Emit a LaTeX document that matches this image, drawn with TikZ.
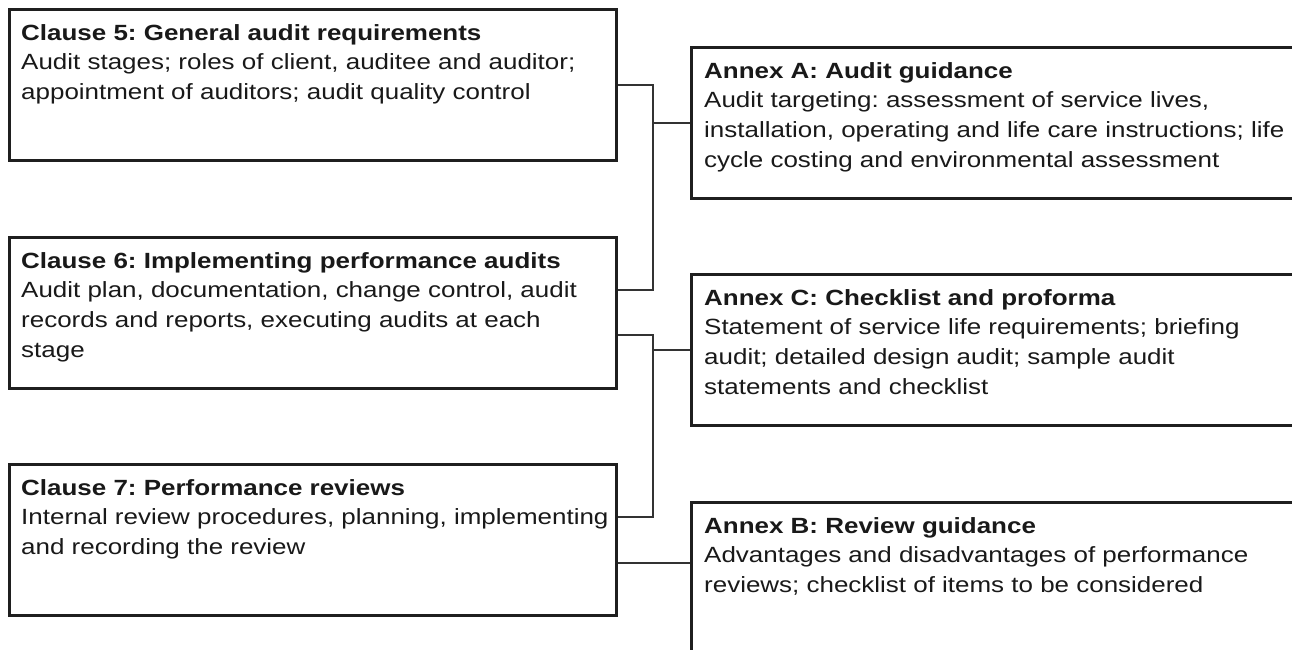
\documentclass[tikz,border=0pt]{standalone}
\usepackage{fontspec}
\setmainfont{Liberation Sans}[FakeStretch=1.18]
\usepackage{tikz}
\frenchspacing

\tikzset{
  part/.style={draw=black!88, line width=2.6pt, rectangle, inner sep=0pt,
    minimum width=607pt, minimum height=151pt, anchor=north west},
  words/.style={anchor=north west, align=left, inner sep=0pt, text=black!90,
    font=\fontsize{22}{29.8}\selectfont},
  link/.style={draw=black!80, line width=1.8pt}
}

\begin{document}
\begin{tikzpicture}[x=1pt, y=-1pt]
	\clip (0,0) rectangle (1292,649);
	\fill [white] (0,0) rectangle (1292,649);
	% clauses
	\node [part] (c5) at (8,8) {};
	\node [part] (c6) at (8,236) {};
	\node [part] (c7) at (8,463) {};
	% annexes
	\node [part] (anA) at (690,46) {};
	\node [part] (anC) at (690,273) {};
	\node [part] (anB) at (690,501) {};

	% label
	\node [words] (c5t) at (21,24) {\textbf{Clause 5: General audit requirements}\\
		Audit stages; roles of client, auditee and auditor;\\
		appointment of auditors; audit quality control};
	\node [words] (c6t) at (21,252) {\textbf{Clause 6: Implementing performance audits}\\
		Audit plan, documentation, change control, audit\\
		records and reports, executing audits at each\\
		stage};
	\node [words] (c7t) at (21,479) {\textbf{Clause 7: Performance reviews}\\
		Internal review procedures, planning, implementing\\
		and recording the review};
	\node [words] (anAt) at (704,62) {\textbf{Annex A: Audit guidance}\\
		Audit targeting: assessment of service lives,\\
		installation, operating and life care instructions; life\\
		cycle costing and environmental assessment};
	\node [words] (anCt) at (704,289) {\textbf{Annex C: Checklist and proforma}\\
		Statement of service life requirements; briefing\\
		audit; detailed design audit; sample audit\\
		statements and checklist};
	\node [words] (anBt) at (704,517) {\textbf{Annex B: Review guidance}\\
		Advantages and disadvantages of performance\\
		reviews; checklist of items to be considered};

	% bus lines
	\coordinate (busx) at (653,0);
	\coordinate (c6up) at ([yshift=23pt]c6.east);
	\coordinate (c6dn) at ([yshift=-22pt]c6.east);
	\coordinate (c7up) at ([yshift=23pt]c7.east);
	\coordinate (c7dn) at ([yshift=-23pt]c7.east);
	% c5, c6 to annex A
	\draw [link] (c5.east) -- (c5.east -| busx) -- (c6up -| busx) -- (c6up);
	\draw [link] (anA.west -| busx) -- (anA.west);
	% c6, c7 to annex C
	\draw [link] (c6dn) -- (c6dn -| busx) -- (c7up -| busx) -- (c7up);
	\draw [link] (anC.west -| busx) -- (anC.west);
	% c7 to annex B
	\draw [link] (c7dn) -- (c7dn -| anB.west);
\end{tikzpicture}
\end{document}
